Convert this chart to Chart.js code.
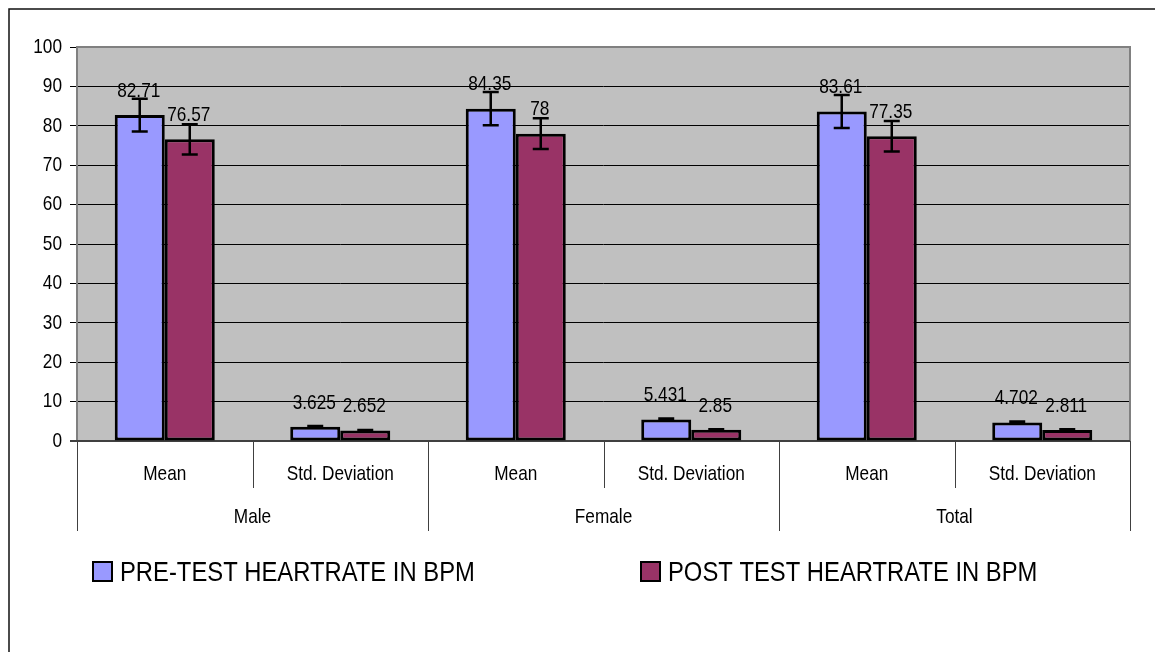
<!DOCTYPE html>
<html>
<head>
<meta charset="utf-8">
<script src="https://cdn.jsdelivr.net/npm/chart.js@4"></script>
<style>
  html, body { margin: 0; padding: 0; background: #fff; }
  #wrap { width: 1155px; height: 652px; }
</style>
</head>
<body>
<div id="wrap"><canvas id="hrChart" width="1155" height="652"></canvas></div>
<script>
const categories = ['Mean', 'Std. Deviation', 'Mean', 'Std. Deviation', 'Mean', 'Std. Deviation'];
const groups = ['Male', 'Female', 'Total'];
const preTest = [82.71, 3.625, 84.35, 5.431, 83.61, 4.702];
const postTest = [76.57, 2.652, 78, 2.85, 77.35, 2.811];
const preErr = [4.14, 0.18, 4.22, 0.27, 4.18, 0.24];
const postErr = [3.83, 0.13, 3.9, 0.14, 3.87, 0.14];
const yTicks = [0, 10, 20, 30, 40, 50, 60, 70, 80, 90, 100];

const FONT = "'Liberation Sans', Arial, sans-serif";
const errors = [preErr, postErr];

// the source image has tall, narrow Arial text, so squeeze it sideways
function narrowText(ctx, text, x, y, size, align, squeeze) {
  ctx.save();
  ctx.font = size + 'px ' + FONT;
  ctx.textAlign = align;
  ctx.textBaseline = 'middle';
  ctx.translate(x, y);
  ctx.scale(squeeze || 0.82, 1);
  ctx.fillText(text, 0, 0);
  ctx.restore();
}

const excelPlugin = {
  id: 'excelStyle',
  beforeDraw: (chart) => {
    const { ctx, chartArea: a } = chart;
    ctx.save();
    // outer frame
    ctx.strokeStyle = '#111';
    ctx.lineWidth = 1.5;
    ctx.beginPath();
    ctx.moveTo(9, 652);
    ctx.lineTo(9, 9);
    ctx.lineTo(1155, 9);
    ctx.stroke();
    // plot area
    ctx.fillStyle = '#C0C0C0';
    ctx.fillRect(a.left, a.top, a.right - a.left, a.bottom - a.top);
    ctx.restore();
  },
  beforeDatasetsDraw: (chart) => {
    const { ctx, chartArea: a } = chart;
    ctx.save();
    ctx.strokeStyle = '#808080';
    ctx.lineWidth = 2;
    ctx.beginPath();
    ctx.moveTo(a.left, a.bottom);
    ctx.lineTo(a.left, a.top);
    ctx.lineTo(a.right, a.top);
    ctx.lineTo(a.right, a.bottom);
    ctx.stroke();
    ctx.strokeStyle = '#404040';
    ctx.beginPath();
    ctx.moveTo(a.left - 7, a.bottom);
    ctx.lineTo(a.right, a.bottom);
    ctx.stroke();
    ctx.restore();
  },
  afterDatasetsDraw: (chart) => {
    const { ctx, chartArea: a, scales: { x, y } } = chart;
    ctx.save();
    ctx.fillStyle = '#000';

    // y tick labels
    yTicks.forEach(v => narrowText(ctx, String(v), 62, y.getPixelForValue(v), 21, 'right'));

    // error bars
    ctx.strokeStyle = '#000';
    ctx.lineWidth = 2.5;
    chart.data.datasets.forEach((ds, di) => {
      chart.getDatasetMeta(di).data.forEach((bar, i) => {
        const v = ds.data[i];
        const top = y.getPixelForValue(v + errors[di][i]);
        const bot = y.getPixelForValue(v - errors[di][i]);
        ctx.beginPath();
        ctx.moveTo(bar.x, top);
        ctx.lineTo(bar.x, bot);
        ctx.moveTo(bar.x - 8, top);
        ctx.lineTo(bar.x + 8, top);
        ctx.moveTo(bar.x - 8, bot);
        ctx.lineTo(bar.x + 8, bot);
        ctx.stroke();
      });
    });

    // value labels
    chart.data.datasets.forEach((ds, di) => {
      chart.getDatasetMeta(di).data.forEach((bar, i) => {
        narrowText(ctx, String(ds.data[i]), bar.x - 1, bar.y - 24, 21, 'center');
      });
    });

    // two-level category axis
    const n = categories.length;
    const step = (a.right - a.left) / n;
    ctx.strokeStyle = '#404040';
    ctx.lineWidth = 1;
    for (let i = 0; i <= n; i++) {
      const px = Math.round(a.left + step * i) + 0.5;
      const end = i % 2 === 0 ? 531 : 488;
      ctx.beginPath();
      ctx.moveTo(px, a.bottom);
      ctx.lineTo(px, end);
      ctx.stroke();
    }
    categories.forEach((c, i) => narrowText(ctx, c, x.getPixelForValue(i), 474, 21, 'center'));
    groups.forEach((g, gi) => narrowText(ctx, g, a.left + step * (gi * 2 + 1), 517, 21, 'center'));

    // legend
    const legendX = [93, 641];
    chart.data.datasets.forEach((ds, di) => {
      const lx = legendX[di];
      ctx.fillStyle = ds.backgroundColor;
      ctx.fillRect(lx, 562, 19, 19);
      ctx.strokeStyle = '#000';
      ctx.lineWidth = 2;
      ctx.strokeRect(lx, 562, 19, 19);
      ctx.fillStyle = '#000';
      narrowText(ctx, ds.label, lx + 27, 573, 28, 'left', 0.85);
    });
    ctx.restore();
  }
};

const chart = new Chart(document.getElementById('hrChart').getContext('2d'), {
  type: 'bar',
  data: {
    labels: categories,
    datasets: [
      {
        label: 'PRE-TEST HEARTRATE IN BPM',
        data: preTest,
        backgroundColor: '#9999FF',
        borderColor: '#000',
        borderWidth: 3,
        borderSkipped: false
      },
      {
        label: 'POST TEST HEARTRATE IN BPM',
        data: postTest,
        backgroundColor: '#993366',
        borderColor: '#000',
        borderWidth: 3,
        borderSkipped: false
      }
    ]
  },
  options: {
    responsive: false,
    animation: false,
    devicePixelRatio: 1,
    layout: { padding: { top: 47, right: 25, left: 0, bottom: 0 } },
    datasets: { bar: { categoryPercentage: 0.57, barPercentage: 1 } },
    scales: {
      x: {
        grid: { display: false },
        border: { display: false },
        ticks: { display: false },
        afterFit: (s) => { s.height = 211; }
      },
      y: {
        min: 0,
        max: 100,
        afterFit: (s) => { s.width = 77; },
        afterBuildTicks: (s) => { s.ticks = yTicks.map(v => ({ value: v })); },
        border: { display: false },
        grid: {
          color: (c) => (c.tick && (c.tick.value === 0 || c.tick.value === 100)) ? 'rgba(0,0,0,0)' : '#000',
          tickColor: '#000',
          tickLength: 7,
          lineWidth: 1
        },
        ticks: { display: false }
      }
    },
    plugins: {
      legend: { display: false },
      tooltip: { enabled: false }
    }
  },
  plugins: [excelPlugin]
});
</script>
</body>
</html>
